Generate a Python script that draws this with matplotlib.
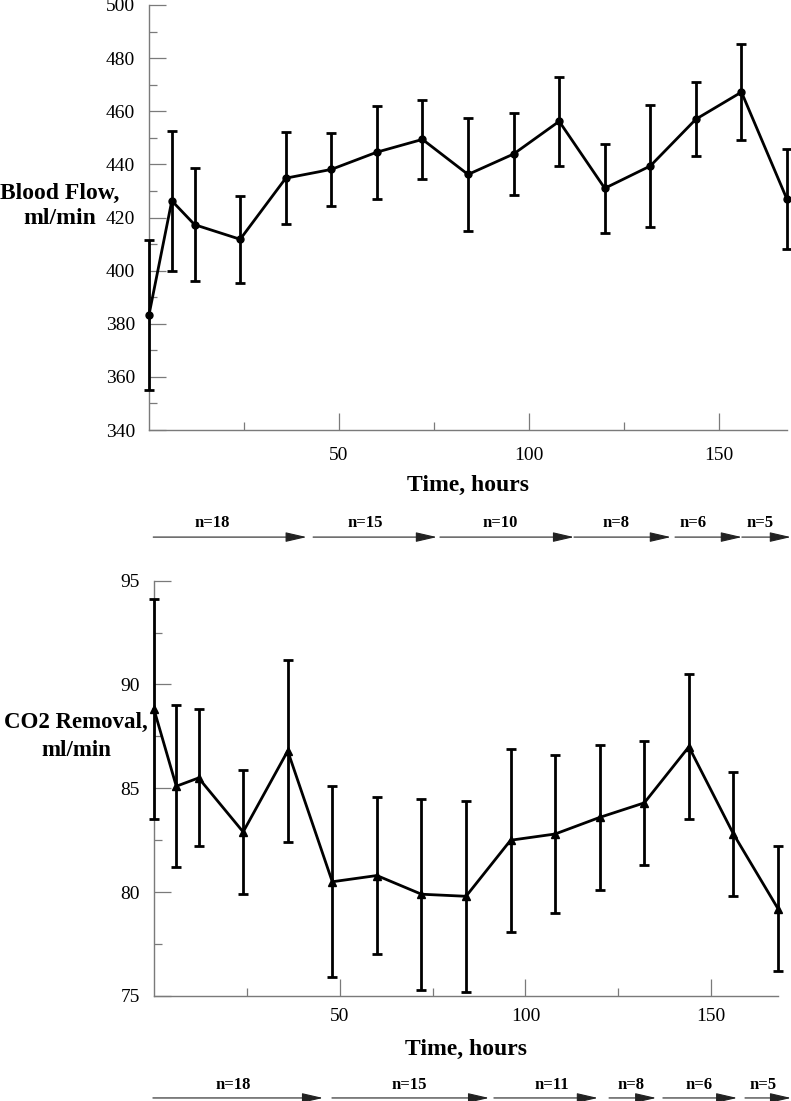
import matplotlib.pyplot as plt
from matplotlib.ticker import FixedLocator, MultipleLocator

# --------------------------------------------------
# Data
# --------------------------------------------------
hours = [0, 6, 12, 24, 36, 48, 60, 72, 84, 96, 108, 120, 132, 144, 156, 168]

flow_mean = [383.4, 426.3, 417.3, 411.8, 434.8, 438.1, 444.6, 449.4,
             436.2, 443.9, 456.2, 431.0, 439.4, 457.0, 467.2, 426.8]
flow_err = [28.2, 26.3, 21.2, 16.4, 17.4, 13.8, 17.5, 14.9,
            21.2, 15.3, 16.7, 16.7, 23.0, 14.0, 18.0, 18.8]

co2_mean = [88.8, 85.1, 85.5, 82.9, 86.8, 80.5, 80.8, 79.9,
            79.8, 82.5, 82.8, 83.6, 84.3, 87.0, 82.8, 79.2]
co2_err = [5.3, 3.9, 3.3, 3.0, 4.4, 4.6, 3.8, 4.6,
           4.6, 4.4, 3.8, 3.5, 3.0, 3.5, 3.0, 3.0]

# sample size bands under each panel (time units)
flow_n = ['n=18', 'n=15', 'n=10', 'n=8', 'n=6', 'n=5']
flow_n_start = [1.1, 43.2, 76.6, 111.9, 138.5, 156.1]
flow_n_end = [41.5, 75.8, 111.9, 137.4, 156.1, 169.0]
flow_n_label = [16.6, 56.9, 92.4, 123.0, 143.2, 160.9]

co2_n = ['n=18', 'n=15', 'n=11', 'n=8', 'n=6', 'n=5']
co2_n_start = [-0.3, 47.9, 91.5, 122.5, 137.0, 159.1]
co2_n_end = [45.5, 90.2, 119.5, 135.2, 157.0, 171.5]
co2_n_label = [21.3, 68.7, 107.1, 128.4, 146.7, 163.9]

# --------------------------------------------------
# Style
# --------------------------------------------------
plt.rcParams['font.family'] = ['Liberation Serif', 'DejaVu Serif']
SPINE = '#7a7a7a'

fig = plt.figure(figsize=(7.91, 11.01), dpi=100)
ax1 = fig.add_axes([0.1884, 0.6094, 0.8066, 0.3861])
ax2 = fig.add_axes([0.1947, 0.0954, 0.7889, 0.3772])


def style_axis(ax, xpad):
    for side in ['top', 'right']:
        ax.spines[side].set_visible(False)
    for side in ['left', 'bottom']:
        ax.spines[side].set_color(SPINE)
        ax.spines[side].set_linewidth(1.0)
    ax.xaxis.set_major_locator(FixedLocator([50, 100, 150]))
    ax.xaxis.set_minor_locator(FixedLocator([25, 75, 125]))
    ax.tick_params(which='both', direction='in', color=SPINE, width=0.9,
                   labelsize=14)
    ax.tick_params(which='major', length=12)
    ax.tick_params(which='minor', length=6)
    ax.tick_params(axis='x', which='major', pad=xpad)
    ax.tick_params(axis='y', which='major', pad=10)
    ax.set_xlim(0, 168)


def side_label(ax, lines, x, ys, size):
    # horizontal two-line axis title, left of the y tick labels
    for txt, y in zip(lines, ys):
        ax.text(x, y, txt, transform=ax.transAxes, ha='center', va='center',
                fontsize=size, fontweight='bold')


def n_arrows(ax, labels, starts, ends, label_x, y_arrow, y_text):
    for lab, s, e, lx in zip(labels, starts, ends, label_x):
        ax.annotate('', xy=(e, y_arrow), xytext=(s, y_arrow),
                    xycoords=('data', 'axes fraction'),
                    textcoords=('data', 'axes fraction'),
                    annotation_clip=False,
                    arrowprops=dict(arrowstyle='-|>,head_length=1.3,head_width=0.3',
                                    color='#222222', lw=0.8,
                                    shrinkA=0, shrinkB=0))
        ax.text(lx, y_text, lab, transform=ax.get_xaxis_transform(),
                ha='center', va='center', fontsize=12, fontweight='bold')


# --------------------------------------------------
# Blood flow panel
# --------------------------------------------------
ax1.errorbar(hours, flow_mean, yerr=flow_err, color='black', lw=2.0,
             marker='o', markersize=5, elinewidth=2.0, capsize=3.5,
             capthick=2.0, clip_on=False, zorder=3)
style_axis(ax1, 12)
ax1.set_ylim(340, 500)
ax1.yaxis.set_major_locator(MultipleLocator(20))
ax1.yaxis.set_minor_locator(MultipleLocator(10))
ax1.set_xlabel('Time, hours', fontsize=17, fontweight='bold', labelpad=8)
side_label(ax1, ['Blood Flow,', 'ml/min'], -0.1395, [0.5576, 0.4988], 17)
n_arrows(ax1, flow_n, flow_n_start, flow_n_end, flow_n_label, -0.2518, -0.219)

# --------------------------------------------------
# CO2 removal panel
# --------------------------------------------------
ax2.errorbar(hours, co2_mean, yerr=co2_err, color='black', lw=2.0,
             marker='^', markersize=5.5, elinewidth=2.0, capsize=3.5,
             capthick=2.0, clip_on=False, zorder=3)
style_axis(ax2, 9)
ax2.set_ylim(75, 95)
ax2.yaxis.set_major_locator(MultipleLocator(5))
ax2.yaxis.set_minor_locator(MultipleLocator(2.5))
ax2.set_xlabel('Time, hours', fontsize=17, fontweight='bold', labelpad=10)
side_label(ax2, ['CO2 Removal,', 'ml/min'], -0.125, [0.6574, 0.590], 16.5)
n_arrows(ax2, co2_n, co2_n_start, co2_n_end, co2_n_label, -0.2456, -0.2143)

fig.savefig('out.png', dpi=100)
